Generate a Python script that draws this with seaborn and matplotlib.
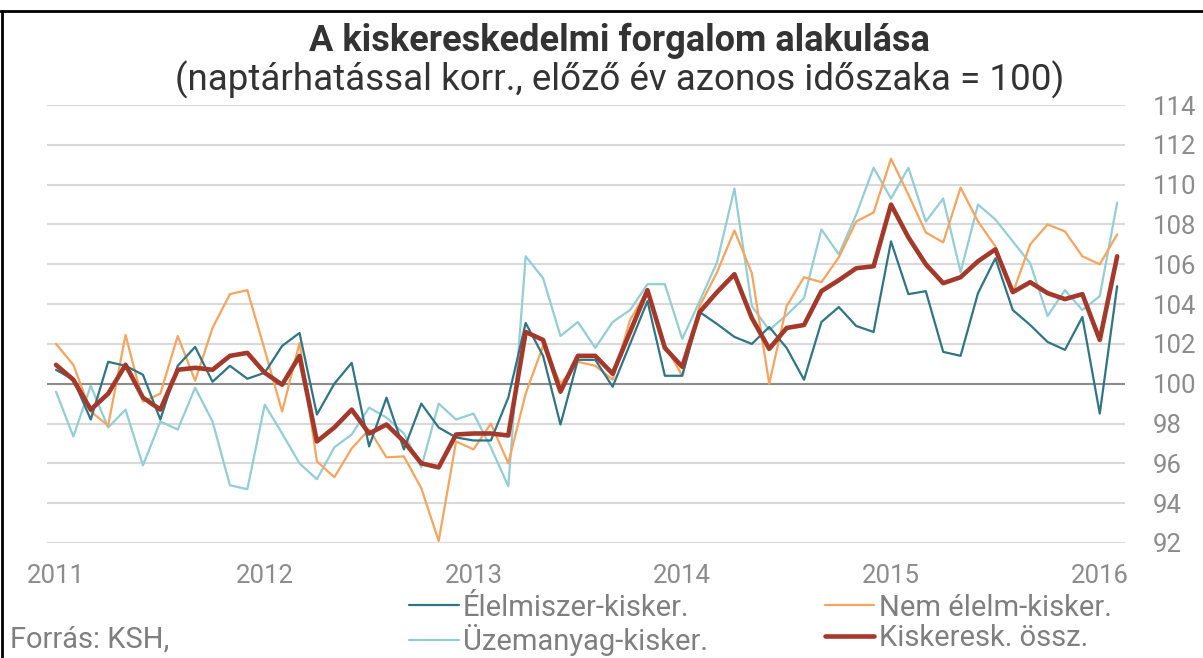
import matplotlib
matplotlib.use("Agg")
import matplotlib.pyplot as plt
from matplotlib.lines import Line2D
import seaborn as sns
import pandas as pd
import numpy as np

# Havi adatok, 2011. január - 2016. február
months = pd.period_range("2011-01", "2016-02", freq="M")

elelmiszer = [100.7, 100.2, 98.2, 101.1, 100.9, 100.45, 98.2, 100.9, 101.85, 100.1,
              100.9, 100.25, 100.55, 101.9, 102.55, 98.45, 100.0, 101.05, 96.85, 99.3,
              96.7, 99.0, 97.8, 97.3, 97.15, 97.15, 99.3, 103.05, 101.4, 97.95,
              101.2, 101.2, 99.85, 102.0, 104.15, 100.4, 100.4, 103.6, 103.0, 102.35,
              102.0, 102.85, 101.8, 100.2, 103.1, 103.85, 102.9, 102.6, 107.15, 104.5,
              104.65, 101.6, 101.4, 104.55, 106.3, 103.7, 102.95, 102.1, 101.7, 103.35,
              98.5, 104.9]
nem_elelm = [102.0, 100.95, 98.6, 97.9, 102.45, 99.1, 99.5, 102.4, 100.15, 102.8,
             104.5, 104.7, 101.7, 98.6, 102.05, 96.1, 95.3, 96.75, 97.7, 96.3,
             96.35, 94.75, 92.1, 97.1, 96.7, 98.0, 96.0, 99.5, 101.9, 100.0,
             101.1, 100.9, 100.2, 103.2, 104.7, 101.95, 100.4, 103.9, 105.6, 107.7,
             105.55, 100.0, 103.9, 105.35, 105.1, 106.35, 108.15, 108.6, 111.3, 109.5,
             107.6, 107.1, 109.85, 108.15, 106.9, 104.55, 107.0, 108.0, 107.65, 106.4,
             106.0, 107.5]
uzemanyag = [99.6, 97.35, 99.9, 97.8, 98.7, 95.9, 98.1, 97.7, 99.8, 98.1,
             94.9, 94.7, 98.95, 97.5, 96.0, 95.2, 96.8, 97.45, 98.8, 98.3,
             97.5, 95.8, 99.0, 98.2, 98.5, 96.8, 94.85, 106.4, 105.3, 102.4,
             103.1, 101.8, 103.1, 103.7, 105.0, 105.0, 102.25, 104.15, 106.1, 109.8,
             103.9, 102.7, 103.45, 104.3, 107.75, 106.5, 108.5, 110.85, 109.3, 110.85,
             108.15, 109.3, 105.6, 109.0, 108.25, 107.15, 106.05, 103.4, 104.7, 103.7,
             104.4, 109.1]
osszes = [100.95, 100.2, 98.7, 99.5, 100.95, 99.3, 98.7, 100.7, 100.8, 100.7,
          101.4, 101.55, 100.55, 99.95, 101.4, 97.1, 97.8, 98.7, 97.5, 97.95,
          97.1, 96.0, 95.8, 97.45, 97.5, 97.5, 97.4, 102.6, 102.2, 99.6,
          101.4, 101.4, 100.5, 102.6, 104.7, 101.8, 100.85, 103.6, 104.6, 105.5,
          103.3, 101.75, 102.8, 102.95, 104.65, 105.2, 105.8, 105.9, 109.0, 107.35,
          106.0, 105.05, 105.35, 106.15, 106.75, 104.6, 105.1, 104.55, 104.25, 104.5,
          102.2, 106.4]

series = {
    "Élelmiszer-kisker.": elelmiszer,
    "Nem élelm-kisker.": nem_elelm,
    "Üzemanyag-kisker.": uzemanyag,
    "Kiskeresk. össz.": osszes,
}
colors = {
    "Élelmiszer-kisker.": "#2f7585",
    "Nem élelm-kisker.": "#f6a45e",
    "Üzemanyag-kisker.": "#93cdd5",
    "Kiskeresk. össz.": "#a3392b",
}
widths = {
    "Élelmiszer-kisker.": 1.6,
    "Nem élelm-kisker.": 1.6,
    "Üzemanyag-kisker.": 1.6,
    "Kiskeresk. össz.": 3.3,
}
draw_order = ["Üzemanyag-kisker.", "Nem élelm-kisker.", "Élelmiszer-kisker.", "Kiskeresk. össz."]

x_idx = np.arange(len(months))
df = pd.concat([pd.DataFrame({"honap": x_idx, "ertek": series[k], "sor": k}) for k in draw_order])

sns.set_theme(style="white")
plt.rcParams["font.family"] = ["Roboto", "DejaVu Sans"]

fig = plt.figure(figsize=(12.03, 6.58), dpi=100)
ax = fig.add_axes([0.039, 0.1748, 0.8963, 0.6656])

for k in draw_order:
    sns.lineplot(data=df[df["sor"] == k], x="honap", y="ertek", color=colors[k],
                 linewidth=widths[k], ax=ax, legend=False)

ax.set_ylim(92, 114)
ax.set_xlim(-0.52, 61.46)
ax.set_yticks(range(92, 115, 2))
year_pos = [i for i, m in enumerate(months) if m.month == 1]
ax.set_xticks(year_pos)
ax.set_xticklabels([str(months[i].year) for i in year_pos])
ax.set_xlabel("")
ax.set_ylabel("")
ax.yaxis.tick_right()
ax.tick_params(axis="y", length=0, pad=20, labelsize=18.5, labelcolor="#8c8c8c")
ax.tick_params(axis="x", length=0, pad=15, labelsize=18.5, labelcolor="#8c8c8c")
ax.yaxis.grid(True, color="#d9d9d9", linewidth=1.5)
ax.set_axisbelow(True)
ax.axhline(100, color="#8c8c8c", linewidth=1.5, zorder=1)
for s in ax.spines.values():
    s.set_visible(False)

# cím
fig.text(0.515, 1 - 41 / 658, "A kiskereskedelmi forgalom alakulása", ha="center", va="center",
         fontsize=26, fontweight="bold", color="#333333")
fig.text(0.515, 1 - 80 / 658, "(naptárhatással korr., előző év azonos időszaka = 100)", ha="center",
         va="center", fontsize=26.5, color="#333333")

# jelmagyarázat
leg_order = ["Élelmiszer-kisker.", "Üzemanyag-kisker.", "Nem élelm-kisker.", "Kiskeresk. össz."]
handles = [Line2D([0], [0], color=colors[k], linewidth=widths[k]) for k in leg_order]
leg = fig.legend(handles, leg_order, ncol=2, loc="center", bbox_to_anchor=(0.632, 0.0505),
                 frameon=False, fontsize=21, handlelength=1.7, handletextpad=0.15,
                 columnspacing=4.0, labelspacing=0.08, borderpad=0)
for t in leg.get_texts():
    t.set_color("#7f7f7f")

fig.text(10 / 1203, 1 - 640 / 658, "Forrás: KSH,", ha="left", va="center", fontsize=21, color="#7f7f7f")

# keret
fig.add_artist(Line2D([0.0, 1.0], [1 - 11 / 658, 1 - 11 / 658], color="black", linewidth=2))
fig.add_artist(Line2D([2 / 1203, 2 / 1203], [0, 1 - 11 / 658], color="black", linewidth=2))

fig.savefig("out.png", dpi=100)
